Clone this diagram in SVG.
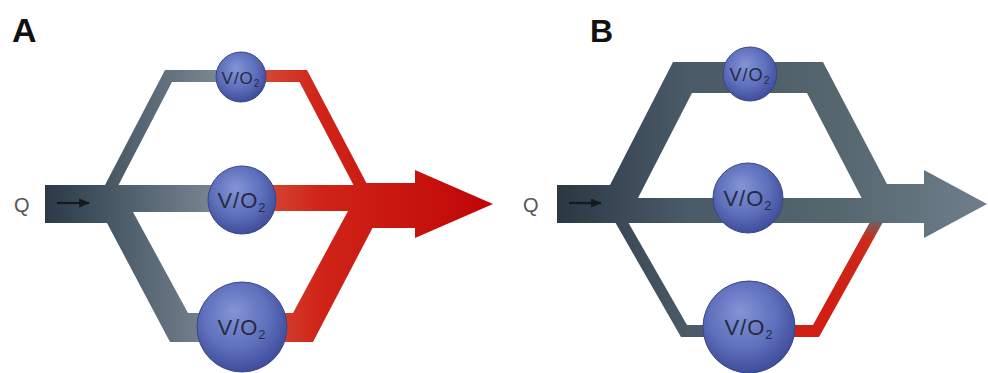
<svg xmlns="http://www.w3.org/2000/svg" width="988" height="373" viewBox="0 0 988 373">
  <defs>
    <linearGradient id="greyA" gradientUnits="userSpaceOnUse" x1="45" y1="0" x2="228" y2="0">
      <stop offset="0" stop-color="#2b3946"/>
      <stop offset="0.4" stop-color="#4b5b68"/>
      <stop offset="1" stop-color="#7e8c97"/>
    </linearGradient>
    <linearGradient id="redA" gradientUnits="userSpaceOnUse" x1="262" y1="0" x2="493" y2="0">
      <stop offset="0" stop-color="#d44a38"/>
      <stop offset="0.25" stop-color="#d02418"/>
      <stop offset="1" stop-color="#c00606"/>
    </linearGradient>
    <linearGradient id="greyB" gradientUnits="userSpaceOnUse" x1="557" y1="0" x2="987" y2="0">
      <stop offset="0" stop-color="#2a3844"/>
      <stop offset="0.3" stop-color="#4a5a66"/>
      <stop offset="0.65" stop-color="#56666f"/>
      <stop offset="1" stop-color="#6e7e8b"/>
    </linearGradient>
    <linearGradient id="redB" gradientUnits="userSpaceOnUse" x1="0" y1="300" x2="0" y2="224">
      <stop offset="0" stop-color="#d01e12"/>
      <stop offset="0.8" stop-color="#cc2a1c"/>
      <stop offset="1" stop-color="#7a5a58"/>
    </linearGradient>
    <radialGradient id="ball" cx="0.45" cy="0.4" r="0.6" fx="0.4" fy="0.32">
      <stop offset="0" stop-color="#8394d6"/>
      <stop offset="0.6" stop-color="#5f70bd"/>
      <stop offset="1" stop-color="#3f4e9a"/>
    </radialGradient>
    <marker id="tip" viewBox="0 0 10 10" refX="9" refY="5" markerWidth="5" markerHeight="5" orient="auto">
      <path d="M0,1 L10,5 L0,9 Z" fill="#151a1f"/>
    </marker>
    <style>
      .lbl { font-family: "Liberation Sans", Arial, sans-serif; font-weight: bold; fill: #111; }
      .q { font-family: "Liberation Sans", Arial, sans-serif; fill: #555; font-size: 20px; }
      .ball { fill: url(#ball); stroke: #39468a; stroke-width: 1; }
      .vo { font-family: "Liberation Sans", Arial, sans-serif; fill: #262a3e; text-anchor: middle; letter-spacing: 1px; }
      .flowarrow { stroke: #151a1f; stroke-width: 2.2; fill: none; marker-end: url(#tip); }
    </style>
  </defs>

  <rect x="0" y="0" width="988" height="373" fill="#ffffff"/>

  <text class="lbl" x="12" y="42" font-size="34">A</text>
  <text class="lbl" x="590" y="42" font-size="32">B</text>

  <g id="connectors">
    <!-- Panel A -->
    <path id="A-grey" fill="url(#greyA)" d="M45,185 L105,185 L165,70 L230,70 L230,82 L172,82 L118.5,185 L225,185 L225,212 L133,212 L188,313 L220,313 L220,342 L170,342 L107,223 L45,223 Z"/>
    <path id="A-red-top" fill="url(#redA)" d="M255,70 L307,70 L368,186 L354,186 L299.5,82 L255,82 Z"/>
    <path id="A-red-mid" fill="url(#redA)" d="M262,185 L372,185 L372,211 L262,211 Z"/>
    <path id="A-red-bot" fill="url(#redA)" d="M268,313 L293,313 L348,211 L380,211 L380,227 L373,227 L313,342 L268,342 Z"/>
    <path id="A-red-arrow" fill="url(#redA)" d="M356,183 L415,183 L415,170 L493,204 L415,238 L415,228 L356,228 Z"/>
    <line class="flowarrow" x1="57" y1="203" x2="89" y2="203"/>

    <!-- Panel B -->
    <path id="B-grey" fill="url(#greyB)" fill-rule="evenodd" d="M557,185 L610,185 L673,62 L823,62 L887,184 L924,184 L924,170 L987,204 L924,238 L924,223 L557,223 Z M638,198 L692,93 L807,93 L861.6,198 Z"/>
    <path id="B-grey-bot" fill="url(#greyB)" d="M615,222 L628,222 L687,325 L712,325 L712,337 L681,337 Z"/>
    <path id="B-red-bot" fill="url(#redB)" d="M786,325 L813,325 L870,222 L883,222 L819,337 L786,337 Z"/>
    <line class="flowarrow" x1="569" y1="203" x2="601" y2="203"/>
  </g>

  <text class="q" x="14" y="212">Q</text>
  <text class="q" x="523" y="212">Q</text>

  <g id="A-top">
    <circle class="ball" cx="241" cy="77" r="25"/>
    <text class="vo" x="241" y="84" font-size="17">V/O<tspan font-size="10" dy="3">2</tspan></text>
  </g>
  <g id="A-mid">
    <circle class="ball" cx="242" cy="200" r="34"/>
    <text class="vo" x="242" y="208" font-size="22">V/O<tspan font-size="13" dy="4">2</tspan></text>
  </g>
  <g id="A-bot">
    <circle class="ball" cx="242" cy="327" r="45"/>
    <text class="vo" x="242" y="335" font-size="22">V/O<tspan font-size="13" dy="4">2</tspan></text>
  </g>

  <g id="B-top">
    <circle class="ball" cx="750" cy="74" r="27"/>
    <text class="vo" x="750" y="81" font-size="18">V/O<tspan font-size="11" dy="3">2</tspan></text>
  </g>
  <g id="B-mid">
    <circle class="ball" cx="748" cy="198" r="35"/>
    <text class="vo" x="748" y="206" font-size="22">V/O<tspan font-size="13" dy="4">2</tspan></text>
  </g>
  <g id="B-bot">
    <circle class="ball" cx="749" cy="327" r="46"/>
    <text class="vo" x="749" y="335" font-size="22">V/O<tspan font-size="13" dy="4">2</tspan></text>
  </g>
</svg>
